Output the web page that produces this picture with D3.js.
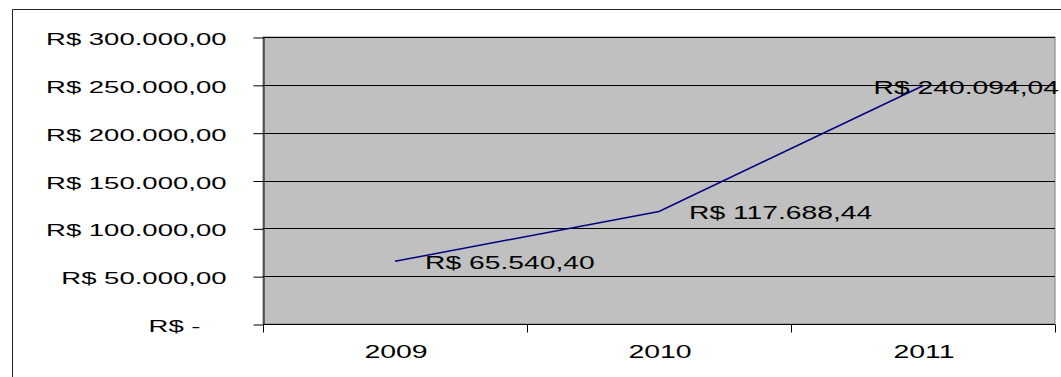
<!DOCTYPE html>
<html><head><meta charset="utf-8">
<script src="https://cdn.jsdelivr.net/npm/d3@7"></script>
<style>
html,body{margin:0;padding:0;background:#fff;}
svg{display:block;}
text{font-family:"Liberation Sans",Arial,sans-serif;fill:#000;}
</style></head>
<body>
<svg id="c" width="1061" height="377"></svg>
<script>
const years = ["2009","2010","2011"];
const values = [65540.40, 117688.44, 249094.04];
const valueLabels = ["R$ 65.540,40","R$ 117.688,44","R$ 240.094,04"];
const yTicks = [0,50000,100000,150000,200000,250000,300000];
const yTickLabels = ["R$ -","R$ 50.000,00","R$ 100.000,00","R$ 150.000,00","R$ 200.000,00","R$ 250.000,00","R$ 300.000,00"];

const svg = d3.select("#c");
const L = 263, R = 1055, T = 37, B = 324;

// outer chart border
svg.append("path").attr("d", `M12.5,377 V9.5 H1061`).attr("fill","none").attr("stroke","#222").attr("stroke-width",1);

const x = d3.scaleBand().domain(years).range([L,R]).paddingInner(0).paddingOuter(0);
const y = d3.scaleLinear().domain([0,300000]).range([B,T]);

// plot area
svg.append("rect").attr("x",L).attr("y",T).attr("width",R-L).attr("height",B-T)
  .attr("fill","#c0c0c0").attr("stroke","#808080").attr("stroke-width",1);

// gridlines
svg.append("g").selectAll("line").data(yTicks.filter(v=>v>0)).join("line")
  .attr("x1",L).attr("x2",R).attr("y1",d=>Math.round(y(d))+0.5).attr("y2",d=>Math.round(y(d))+0.5)
  .attr("stroke","#000").attr("stroke-width",1);

// y axis
const yAxis = d3.axisLeft(y).tickValues(yTicks).tickSize(10).tickSizeOuter(0)
  .tickFormat((d,i)=>yTickLabels[i]);
const gy = svg.append("g").attr("transform",`translate(${L+0.5},0.5)`).call(yAxis);
gy.select(".domain").attr("stroke","#000");
gy.selectAll(".tick line").attr("stroke","#000");
gy.selectAll(".tick text")
  .attr("x",null).attr("dy",null)
  .style("font-size","16px").attr("text-anchor","end")
  .attr("transform",d=> d===0 ? "translate(-63,7) scale(1.72,1)" : "translate(-37,7) scale(1.72,1)");

// x axis
const gx = svg.append("g").attr("transform",`translate(0,${B+0.5})`);
gx.append("line").attr("x1",L).attr("x2",R).attr("stroke","#000");
const edges = years.map(d=>x(d)).concat([x.range()[1]]);
gx.selectAll(".tk").data(edges).join("line").attr("class","tk")
  .attr("x1",d=>Math.round(d)+0.5).attr("x2",d=>Math.round(d)+0.5).attr("y1",0).attr("y2",8)
  .attr("stroke","#000");
gx.selectAll(".lb").data(years).join("text").attr("class","lb")
  .attr("text-anchor","middle").style("font-size","18px")
  .attr("transform",d=>`translate(${x(d)+x.bandwidth()/2+1},33) scale(1.58,1)`)
  .text(d=>d);

// line
const pts = years.map((d,i)=>[x(d)+x.bandwidth()/2, y(values[i])]);
svg.append("path").datum(pts).attr("d",d3.line())
  .attr("fill","none").attr("stroke","#000080").attr("stroke-width",1.5);

// data labels
const sx = 1.57;
svg.append("g").selectAll("text").data(pts).join("text")
  .style("font-size","18px")
  .text((d,i)=>valueLabels[i])
  .each(function(d){
    const w = this.getComputedTextLength()*sx;
    let lx = d[0]+30;
    if (lx + w > R + 4) lx = R + 4 - w;
    d3.select(this).attr("transform",`translate(${lx},${d[1]+8}) scale(${sx},1)`);
  });
</script>
</body></html>
